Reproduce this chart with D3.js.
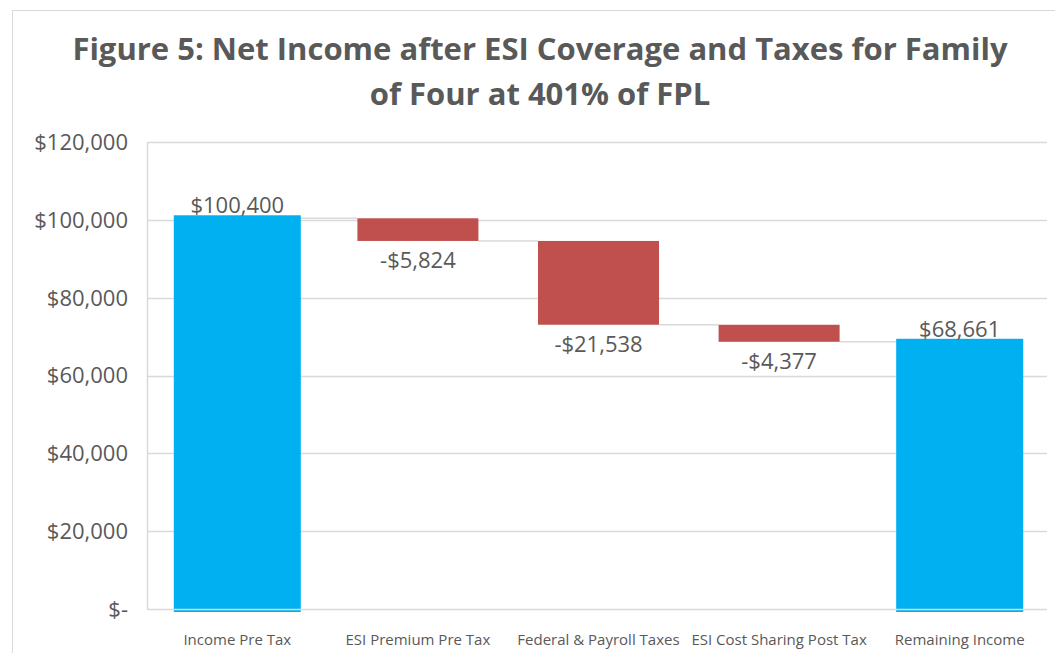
<!DOCTYPE html>
<html>
<head>
<meta charset="utf-8">
<script src="https://cdn.jsdelivr.net/npm/d3@7"></script>
<style>
  body { margin: 0; background: #fff; }
  svg text { font-family: "Open Sans", "Noto Sans", sans-serif; }
</style>
</head>
<body>
<div id="chart"></div>
<script>
const categories = ["Income Pre Tax", "ESI Premium Pre Tax", "Federal & Payroll Taxes", "ESI Cost Sharing Post Tax", "Remaining Income"];
const values = [100400, -5824, -21538, -4377, 68661];
const isTotal = [true, false, false, false, true];
const valueLabels = ["$100,400", "-$5,824", "-$21,538", "-$4,377", "$68,661"];
const yTicks = [0, 20000, 40000, 60000, 80000, 100000, 120000];
const titleLines = ["Figure 5: Net Income after ESI Coverage and Taxes for Family", "of Four at 401% of FPL"];

const Width = 1055, Height = 653;
const Margin = {top: 142, right: 5, bottom: 44, left: 147};
const WidthInner = Width - Margin.left - Margin.right;
const HeightInner = Height - Margin.top - Margin.bottom;
const Grey = "#595959", Grid = "#d9d9d9", Blue = "#00b0f0", Red = "#c0504d";

// running start/end for each step of the waterfall
let running = 0;
const Steps = values.map((v, i) => {
    let s;
    if (isTotal[i]) { s = {start: 0, end: v}; running = v; }
    else { s = {start: running, end: running + v}; running += v; }
    return Object.assign(s, {cat: categories[i], total: isTotal[i], label: valueLabels[i]});
});

const ScaleX = d3.scaleBand().domain(categories).range([0, WidthInner]).paddingInner(0.33).paddingOuter(0.165);
const ScaleY = d3.scaleLinear().domain([0, 120000]).range([HeightInner, 0]);

const Canvas = d3.select("#chart").append("svg").attr("width", Width).attr("height", Height);

// outer chart border
Canvas.append("rect").attr("x", 12.5).attr("y", 10.5).attr("width", 1100).attr("height", 700)
    .attr("fill", "none").attr("stroke", Grid);

const Title = Canvas.append("text").attr("text-anchor", "middle").attr("fill", Grey)
    .attr("font-size", 31).attr("font-weight", "bold");
titleLines.forEach((t, i) => Title.append("tspan").attr("x", 540).attr("y", 60 + i * 45).text(t));

const Plot = Canvas.append("g").attr("transform", `translate(${Margin.left}, ${Margin.top})`);

// gridlines
Plot.append("g").selectAll("line").data(yTicks.filter(d => d > 0)).join("line")
    .attr("x1", 0).attr("x2", WidthInner - 3)
    .attr("y1", d => Math.round(ScaleY(d)) + 0.5).attr("y2", d => Math.round(ScaleY(d)) + 0.5)
    .attr("stroke", Grid).attr("stroke-width", 1.5);

// connectors
Plot.append("g").selectAll("line").data(Steps.slice(0, -1)).join("line")
    .attr("x1", d => ScaleX(d.cat) + ScaleX.bandwidth())
    .attr("x2", (d, i) => ScaleX(categories[i + 1]))
    .attr("y1", d => ScaleY(d.end)).attr("y2", d => ScaleY(d.end))
    .attr("stroke", Grid).attr("stroke-width", 1.5);

// bars
Plot.append("g").selectAll("rect").data(Steps).join("rect")
    .attr("x", d => ScaleX(d.cat))
    .attr("width", ScaleX.bandwidth())
    .attr("y", d => ScaleY(Math.max(d.start, d.end)))
    .attr("height", d => Math.abs(ScaleY(d.start) - ScaleY(d.end)))
    .attr("fill", d => d.total ? Blue : Red)
    .attr("stroke", d => d.total ? Blue : "none")
    .attr("stroke-width", 6);

// axes drawn over the bars
Plot.append("line").attr("x1", 0).attr("x2", WidthInner - 3)
    .attr("y1", HeightInner + 0.5).attr("y2", HeightInner + 0.5)
    .attr("stroke", Grid).attr("stroke-width", 1.5);
Plot.append("line").attr("x1", 0.5).attr("x2", 0.5)
    .attr("y1", 0).attr("y2", HeightInner + 0.5)
    .attr("stroke", Grid).attr("stroke-width", 1.5);

// y tick labels
Plot.append("g").selectAll("text").data(yTicks).join("text")
    .attr("x", -19).attr("y", d => ScaleY(d)).attr("dy", "0.36em")
    .attr("text-anchor", "end").attr("fill", Grey).attr("font-size", 22)
    .text(d => d === 0 ? "$-" : "$" + d3.format(",")(d));

// x labels
Plot.append("g").selectAll("text").data(categories).join("text")
    .attr("x", d => ScaleX(d) + ScaleX.bandwidth() / 2).attr("y", HeightInner + 36)
    .attr("text-anchor", "middle").attr("fill", Grey).attr("font-size", 15)
    .text(d => d);

// value labels
Plot.append("g").selectAll("text").data(Steps).join("text")
    .attr("x", d => ScaleX(d.cat) + ScaleX.bandwidth() / 2)
    .attr("y", d => d.total ? ScaleY(d.end) - 5 : ScaleY(d.end) + 27)
    .attr("text-anchor", "middle").attr("fill", Grey).attr("font-size", 22)
    .text(d => d.label);
</script>
</body>
</html>
